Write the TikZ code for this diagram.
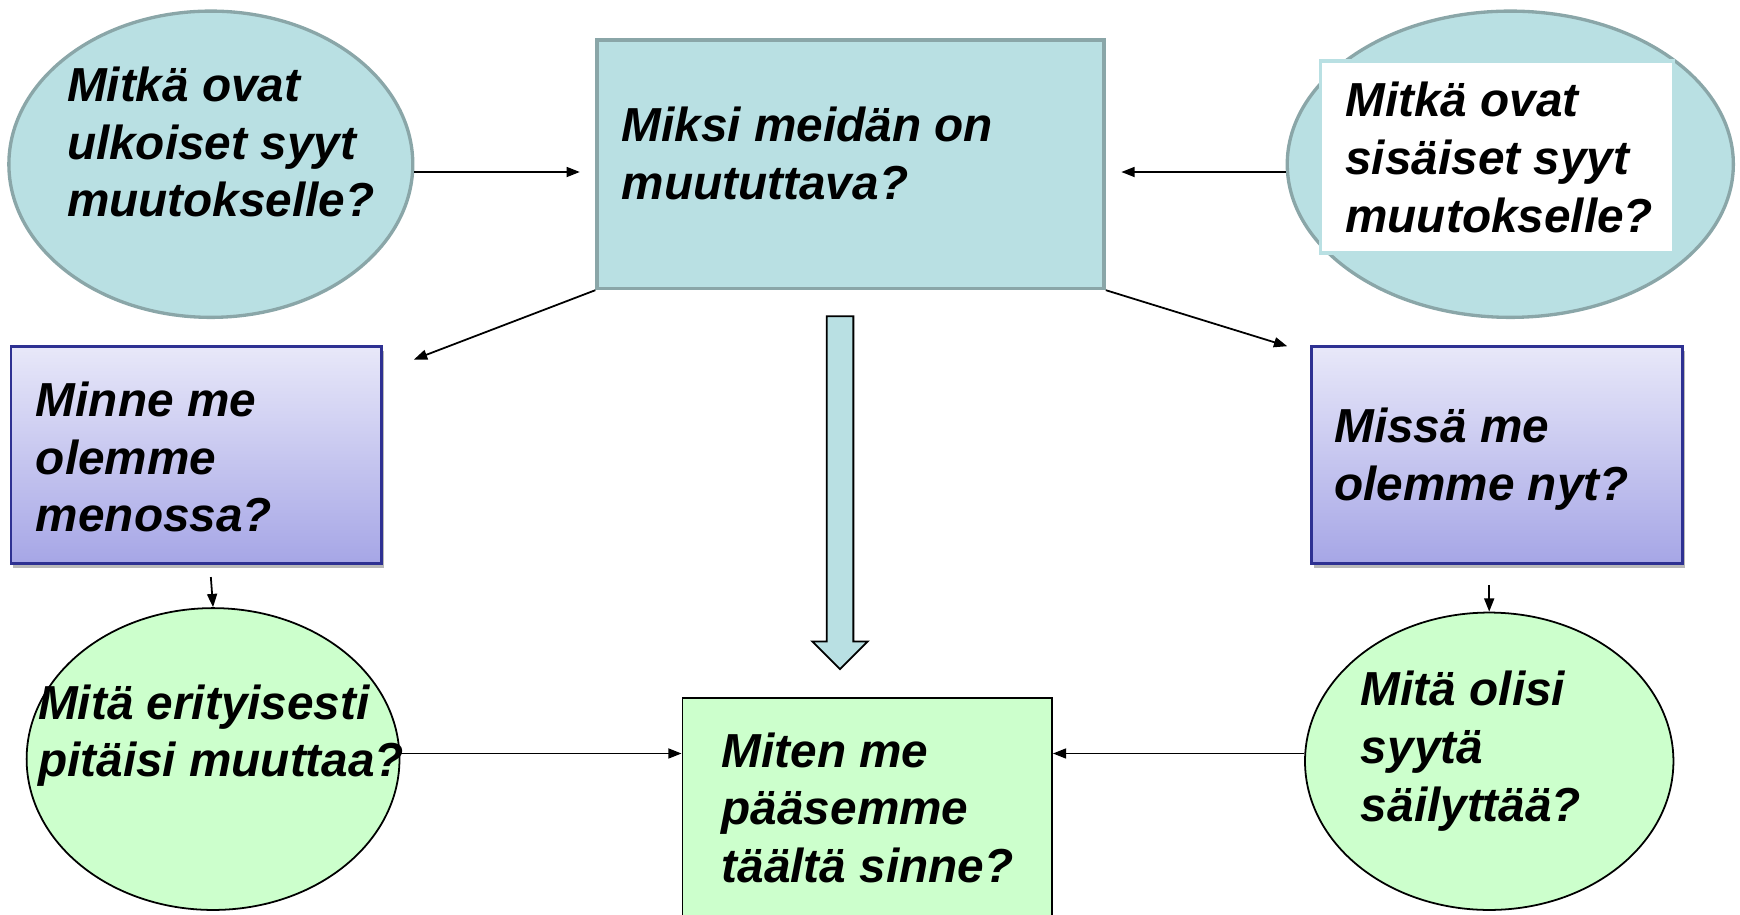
\documentclass[tikz,border=0pt]{standalone}
\usepackage{fontspec}
\setmainfont{Liberation Sans}
\usetikzlibrary{shapes.geometric,shadows,arrows.meta}
\definecolor{paleblue}{RGB}{185,224,227}
\definecolor{greyteal}{RGB}{138,166,168}
\definecolor{lilactop}{RGB}{232,232,249}
\definecolor{lilacbot}{RGB}{166,166,230}
\definecolor{navyline}{RGB}{46,49,146}
\definecolor{mint}{RGB}{204,255,204}
\begin{document}
\begin{tikzpicture}[x=0.5pt,y=-0.5pt,
                    font=\fontsize{21.5}{26}\selectfont\bfseries\itshape,
                    arr/.style={-{Triangle[length=6pt,width=4.5pt]},line width=0.8pt}]
    \tikzstyle{cause}=[ellipse,draw=greyteal,fill=paleblue,line width=1.5pt]
    \tikzstyle{keep}=[ellipse,draw=black,fill=mint,line width=0.8pt]
    \tikzstyle{place}=[draw=navyline,line width=1.2pt,top color=lilactop,bottom color=lilacbot,
                       drop shadow={shadow xshift=1pt,shadow yshift=-2pt,fill=gray,opacity=.55},
                       minimum width=167pt,minimum height=98pt]
    \tikzstyle{question}=[align=left,inner sep=0pt,anchor=west]
    \useasboundingbox (0,0) rectangle (1568,824);

    \node[cause,minimum width=182pt,minimum height=138pt] (outer) at (190,148) {};
    \node[draw=greyteal,fill=paleblue,line width=1.5pt,minimum width=228.5pt,minimum height=112pt] (why) at (766.5,148) {};
    \node[cause,minimum width=201pt,minimum height=138pt] (inner) at (1361,148) {};
    \node[draw=paleblue,fill=white,line width=1.5pt,minimum width=159pt,minimum height=86.5pt] (innerbox) at (1349,141.5) {};
    \node[place] (where) at (177,410) {};
    \node[place] (now) at (1349,410) {};
    \node[keep,minimum width=168pt,minimum height=136pt] (change) at (192,684) {};
    \node[keep,minimum width=166pt,minimum height=134pt] (preserve) at (1342,686) {};
    \node[draw,fill=mint,line width=0.8pt,minimum width=166.5pt,minimum height=105.5pt] (how) at (781.5,734.5) {};

    \node[question] (outertxt) at (60,128) {Mitkä ovat\\ulkoiset syyt\\muutokselle?};
    \node[question] (whytxt) at (560,138) {Miksi meidän on\\muututtava?};
    \node[question] (innertxt) at (1212,142) {Mitkä ovat\\sisäiset syyt\\muutokselle?};
    \node[question] (wheretxt) at (32,412) {Minne me\\olemme\\menossa?};
    \node[question] (nowtxt) at (1202,414) {Missä me\\olemme nyt?};
    \node[question] (howtxt) at (650,728) {Miten me\\pääsemme\\täältä sinne?};
    \node[question] (preservetxt) at (1226,677) {Mitä olisi\\syytä\\säilyttää?};

    \draw[fill=paleblue,line width=0.8pt] (745,285) -- (769,285) -- (769,578) -- (782,578)
        -- (757,603) -- (732,578) -- (745,578) -- cycle;

    \coordinate (outerout) at ([yshift=-3.5pt]outer.east);
    \coordinate (innerout) at ([yshift=-3.5pt]inner.west);
    \coordinate (changeout) at ([yshift=2.5pt]change.east);
    \coordinate (preserveout) at ([yshift=3.5pt]preserve.west);
    \coordinate (leftend) at (373,324);
    \coordinate (rightend) at (1160,312);
    \coordinate (wheredrop) at (190,520);
    \coordinate (nowdrop) at (1342,527);

    \draw[arr,shorten >=7pt] (outerout) -- (outerout -| why.west);
    \draw[arr,shorten >=7pt] (innerout) -- (innerout -| why.east);
    \draw[arr] (why.south west) -- (leftend);
    \draw[arr] (why.south east) -- (rightend);
    \draw[arr] (wheredrop) -- (change.north);
    \draw[arr] (nowdrop) -- (preserve.north);
    \draw[arr] (changeout) -- (changeout -| how.west);
    \draw[arr] (preserveout) -- (preserveout -| how.east);

    \node[question] (changetxt) at (34,663) {Mitä erityisesti\\pitäisi muuttaa?};
\end{tikzpicture}
\end{document}
